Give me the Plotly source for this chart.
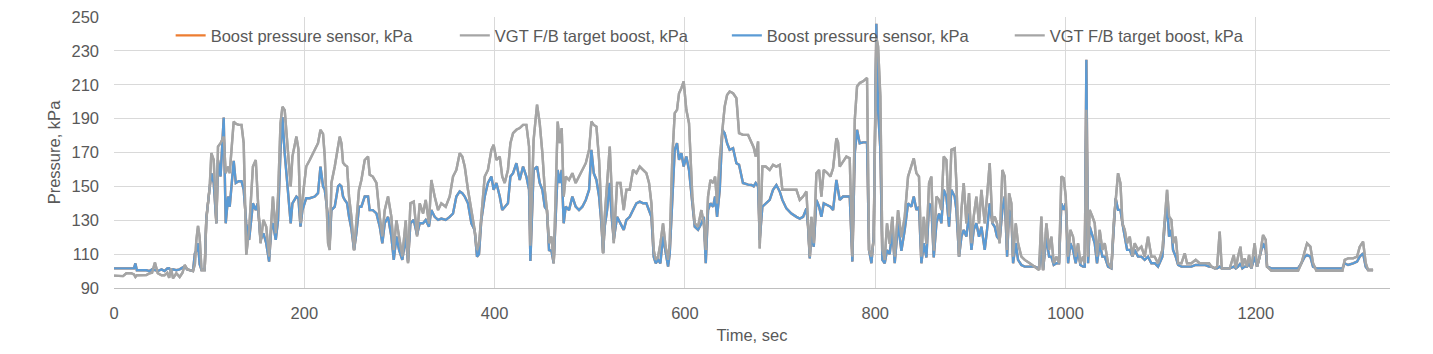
import plotly.graph_objects as go

# ---- Data ----
# Time, sec
time_s = [
    0, 5, 9.5, 13, 18, 21, 22.5, 24, 27, 31, 34, 37.5, 40, 43, 46, 50, 53, 56, 58, 60,
    62, 65.5, 69, 72, 74.3, 77, 79.6, 83, 85, 86.5, 88.3, 90, 92, 95.3, 97, 100.6, 102.3, 104.8, 107.6, 109.3,
    112, 115.3, 117.4, 119.9, 121.6, 125.8, 128, 131, 134, 136.3, 139, 142, 146, 149, 151, 154, 157, 160, 163, 165.4,
    167, 170, 172.4, 175, 177, 179.4, 183, 185.7, 187.5, 191.7, 193.8, 196, 198, 202, 205.7, 211, 214.4, 217, 219.7,
    # 220 - 437
    221.5, 225, 226.7, 228.5, 232, 235.5, 237.2, 239, 240.7, 242.5, 245, 247, 249.5, 252.3, 254.7, 257.5, 260, 263.5,
    267, 268.7, 272, 275.8, 279.3, 282, 284.5, 288, 291.5, 294, 296.8, 299.6, 303, 306.6, 309, 311.5, 315, 318.5,
    321.3, 324.8, 327.6, 331, 333.5, 337, 340.6, 344, 348.6, 352.8, 356.3, 359.8, 363.3, 366, 368.6, 372, 375.6,
    379, 381.5, 383.6, 386, 389.6, 393, 396.6, 399, 401.9, 405.4, 408, 410.6, 414, 416.6, 419.4, 422.9, 426.4,
    429.9, 433.4, 436.2,
    # 437 - 660
    437.6, 441, 444.6, 447.4, 450.2, 452.7, 455, 457.2, 459.7, 462.1, 464.2, 466.3, 468.4, 470.5, 472.6, 474.7,
    478.2, 481.7, 485.2, 488.7, 492.2, 495.8, 499.3, 501.7, 504.2, 507, 509.8, 512.2, 514, 515.7, 518.2, 521, 523,
    525.2, 528.7, 532.2, 535.7, 538.5, 542, 545.5, 549, 552.5, 556, 559.5, 562.3, 564.8, 567.2, 569.3, 571.8, 574.2,
    577, 579.8, 582.3, 584, 586.8, 589.3, 591.7, 593.8, 596.3, 598.7, 601.5, 604.3, 607.8, 610.3, 613.8, 617.3,
    619.8, 621.9, 624.3, 626.8, 629.6, 631.7, 633.8, 636.6, 639.4, 641.8, 644.3, 647, 650.6, 654.1, 656.9,
    # 660 - 880
    661, 666.4, 669.9, 672.3, 674.4, 676.9, 678.6, 681.4, 684.9, 689.1, 692.6, 696.1, 699.6, 702.4, 706.6, 711.9,
    717.2, 720.7, 724.2, 727.7, 729.4, 731.2, 732.9, 735.4, 738.2, 741, 743.4, 745.9, 749.4, 752.9, 755.7, 759.2,
    760.9, 762.7, 766.2, 769.7, 773.2, 776, 778.5, 780.9, 783.7, 787.2, 791.4, 793.5, 796, 798.4, 801.2, 803,
    805.4, 807.5, 810, 812.4, 815.2, 818, 820.5, 824, 827.5, 831, 834.5, 838, 840.5, 843.3, 846, 848.5, 851, 853.8,
    856.6, 859, 861.5, 864.3, 867.1, 869.5, 872, 874.8, 877.6, 880,
    # 880 - 1100
    883.5, 885.3, 888.1, 890.6, 893, 895.8, 898.6, 901.1, 903.5, 906.3, 909.1, 911.6, 915.1, 917.5, 920.3, 923.1,
    925.6, 928, 930.8, 933.6, 936.1, 938.6, 940.7, 943.1, 944.9, 947.7, 950.1, 953.6, 957.1, 962.4, 967.6, 972.2,
    974.6, 976.4, 979.9, 982.7, 985.1, 987.6, 990.4, 993.2, 995.6, 998.1, 1000.2, 1002.7, 1005.1, 1007.9, 1010.7,
    1013.2, 1015.6, 1018.4, 1020.2, 1021.9, 1023.7, 1025.4, 1028.2, 1030.7, 1033.1, 1035.9, 1038.7, 1041.2, 1044.7,
    1048.2, 1050.6, 1052.7, 1055.2, 1057.7, 1059.8, 1062.2, 1064.7, 1067.5, 1070.3, 1072.7, 1076.2, 1079.7, 1083.2,
    1086.7, 1090.2, 1093.7, 1097.2,
    # 1100 - end
    1101.8, 1104.3, 1106.7, 1108.8, 1111.3, 1113, 1115.8, 1118.3, 1121.8, 1125.3, 1127.7, 1132.3, 1136.8, 1141,
    1146.3, 1150.8, 1153.3, 1156.8, 1159.3, 1162, 1164.2, 1169, 1172.6, 1176.8, 1178.9, 1181.3, 1183.8, 1185.9,
    1188.3, 1190.8, 1192.9, 1195.3, 1198.8, 1201.3, 1204.1, 1207.6, 1210.4, 1211.8, 1216.4, 1225.1, 1232.1, 1239.1,
    1244.4, 1247.9, 1251.4, 1253.8, 1257.3, 1260.1, 1263.6, 1274.2, 1284.7, 1291, 1293.4, 1296.9, 1302.2, 1306.4,
    1309.2, 1312.7, 1315.5, 1318, 1323.2,
]

# Boost pressure sensor, kPa
boost_kpa = [
    101.6, 101.6, 101.6, 101.6, 101.6, 101.6, 104.5, 100.5, 100.5, 100.5, 100.5, 100, 101, 100.5, 100, 101, 100, 101.5, 101.6, 100,
    101, 100.5, 101, 102, 102.6, 101, 100.6, 100, 110.5, 112, 116.4, 104, 100.6, 100.6, 131.2, 152, 157.8, 152, 128.2, 165.6,
    155.8, 190.7, 128.2, 144, 138, 165, 152, 153, 153, 148, 128, 118.4, 140, 136, 140, 118.4, 122.3, 116.4, 105.6, 126.2,
    128.2, 118.4, 130, 171.6, 190.9, 169.6, 146, 128.2, 140, 144, 143, 126.2, 136, 143, 143, 144, 146, 161.7, 150,
    # 220 - 437
    148, 132, 116.4, 136, 138, 150, 151, 150, 144, 142, 140, 132, 125, 112.4, 122.3, 138, 138, 144,
    144, 136, 136, 134, 126.2, 116.4, 128.2, 132, 120.4, 106.6, 120.4, 112.4, 106.6, 120.4, 105.6, 128.2, 130.2, 121.4,
    128.2, 128.2, 130.2, 126.2, 136, 132, 130.2, 131, 130.2, 132, 134, 144, 147, 146, 144, 140, 128.2,
    124.3, 108.5, 110, 130, 144, 152, 155.8, 148, 152, 144, 136, 138, 140, 155.8, 157.8, 163.7, 153.8,
    161.7, 155.8, 148,
    # 437 - 660
    106, 159.7, 161.7, 152, 148, 138, 136, 112.4, 112, 104.6, 132, 159.7, 152, 159.7, 128.2, 138,
    136, 144, 138, 136, 138, 142, 148, 171.6, 157.8, 153.8, 144, 128.2, 110.5, 126.2, 136, 152, 132,
    118.4, 132, 128.2, 124.3, 130.2, 132, 136, 140, 141, 140, 140, 136, 132, 108.5, 104.6, 106.6, 104.6,
    120.4, 110.5, 102.6, 110, 144, 171.6, 175.5, 165.6, 169.6, 161.7, 167.6, 159.7, 140, 126.2, 124.3, 128,
    132, 104.6, 136, 140, 138, 144, 132, 148, 183.4, 181.4, 175.5, 171.6, 172.5, 163.7, 162.7,
    # 660 - 880
    152, 151, 150.8, 150, 152, 150, 118.4, 138, 140, 142, 148, 150.8, 147, 142, 137, 134,
    132, 131, 132, 137, 126.2, 107.5, 122.3, 114.4, 142, 138, 132, 140, 139, 138, 136, 153.8,
    148, 142, 144, 144, 144, 105.6, 169.6, 183.4, 175.5, 176, 176, 112.4, 104.6, 120.4, 246, 195.2,
    171.6, 106.6, 104.6, 112.4, 110, 124.3, 104.6, 128.2, 112, 124.3, 140, 138, 144, 136, 138, 104.6, 116.4, 108,
    140, 138, 108, 128.2, 134, 128.2, 148, 144, 126.2, 148,
    # 880 - 1100
    144, 136.1, 108.5, 120.3, 124.3, 120.3, 134.1, 112.5, 124.3, 128.2, 120.3, 126.2, 112.5, 124.3, 140, 128.2,
    126.2, 120.3, 118.4, 136.1, 144, 108.5, 136.1, 132.2, 104.6, 116.4, 106.6, 103.6, 102.6, 102.6, 102.6, 101.6,
    116.4, 100.6, 120.3, 108.5, 108.5, 103.6, 104.6, 104.6, 140, 136.1, 140, 104.6, 116.4, 112.5, 104.6,
    112.5, 103.6, 102.6, 102.6, 224.8, 104.6, 126.2, 120.3, 116.4, 104.6, 116.4, 108.5, 108.5, 102.6,
    101.6, 124.3, 143, 136.1, 136.1, 128.2, 120.3, 112.5, 112.5, 108.5, 112.5, 108.5, 108.5, 106.6,
    108.5, 104.6, 104.6, 102.6,
    # 1100 - end
    108.5, 128.2, 140, 120.3, 124.3, 112.5, 108.5, 103.6, 102.6, 102.6, 102.6, 102.6, 103.6, 103.6,
    103.6, 102.6, 102.6, 101.6, 101.6, 102.6, 101.6, 101.6, 101.6, 102.6, 101.6, 102.6, 104.6, 101.6,
    102.6, 102.6, 104.6, 101.6, 108.5, 102.6, 108.5, 116.4, 112.5, 102.6, 101.6, 101.6, 101.6, 101.6,
    101.6, 104.6, 108.5, 109.5, 108.5, 102.6, 101.6, 101.6, 101.6, 101.6, 104.6, 103.6, 104.6, 105.6,
    108.5, 110.5, 102.6, 100.6, 100.6,
]

# VGT F/B target boost, kPa
target_kpa = [
    97.3, 97.3, 97, 98.7, 98.7, 98, 96.5, 97.5, 97.5, 97.5, 97.7, 98.7, 99, 105, 98.7, 97.5, 97.5, 99, 96, 101.6,
    95.7, 98.7, 96.5, 99, 103.6, 101, 100.6, 100, 104, 118, 126.6, 120, 100.6, 100.6, 130.2, 150, 169.6, 165.6, 128.2, 173.5,
    175.5, 179.4, 157.8, 161.7, 157.8, 188.3, 187, 186.3, 186.3, 175.5, 109.5, 124.3, 161.7, 165.6, 144, 116.4, 130.2, 126.2, 108.5, 132,
    144, 122.3, 144, 187.3, 197, 195, 167.6, 150, 167.6, 179.4, 172, 128.2, 142, 161.7, 165.6, 171.6, 175.5, 183.4, 181,
    # 220 - 437
    167.6, 116.4, 112.4, 152, 161.7, 175.5, 179.4, 175.5, 164, 162.7, 161.7, 144, 132, 112.4, 130, 148, 153.8, 165.6,
    167.6, 156.8, 155.8, 152, 132, 120.4, 136, 144, 132, 112.4, 130, 120.4, 108.5, 130, 104.6, 140, 141, 120.4,
    140, 134, 142, 128, 153.8, 144, 136, 140, 138, 144, 155.8, 159.7, 169.6, 167.6, 161.7, 148, 136,
    124.3, 112.4, 116, 132, 155.8, 159.7, 171.6, 174.5, 165.6, 167.6, 155.8, 152, 159.7, 175.5, 181.4, 183.4, 184.4,
    186.3, 186.3, 173.5,
    # 437 - 660
    115, 177.5, 198.2, 187.3, 169.6, 148, 136, 116.4, 120.4, 104.6, 144, 188.3, 175.5, 184.4, 144, 155.8,
    153.8, 157.8, 152, 155.8, 159.7, 163.7, 171.6, 188.3, 186.3, 185.3, 165.6, 136, 110.5, 132, 152, 173.5, 148,
    116.4, 152, 152, 136, 148, 148, 159.7, 157.8, 161.7, 159.7, 157.8, 152, 140, 112.4, 106.6, 108.5, 116,
    128.2, 114, 106.6, 116.4, 167.6, 193.2, 195.2, 205, 208, 212, 195.2, 187.3, 144, 128.2, 126.2, 136,
    128.2, 112.4, 144, 153.8, 152, 155.8, 140, 165.6, 183.4, 197.2, 204, 206, 205, 202.1, 181.4,
    # 660 - 880
    180.4, 180.4, 175.5, 173, 167.6, 176.5, 113.4, 161.7, 161.7, 159.7, 162.7, 161.7, 162.7, 148, 148, 148,
    148, 142, 144, 147, 128.2, 108.5, 132, 116.4, 157.8, 159.7, 144, 159.7, 158, 155.8, 160.7, 178.4,
    176, 161.7, 164.6, 167.6, 166.6, 108.5, 189.3, 209, 211, 212, 214, 112.4, 108.5, 118.4, 238, 232.6,
    203.1, 112.4, 106.6, 128.2, 116, 132, 108.5, 136, 120, 132, 155.8, 161.7, 166.6, 157.8, 155.8, 108.5, 132, 116,
    152, 155.8, 112, 144, 142, 136, 167.6, 165.6, 132, 171.6,
    # 880 - 1100
    172.5, 151.9, 108.5, 136.1, 151.9, 128.2, 146, 116.4, 132.2, 144, 128.2, 148, 128.2, 144, 163.7, 128.2,
    132.2, 128.2, 116.4, 159.7, 155.8, 112.5, 146, 140, 108.5, 128.2, 116.4, 108.5, 106.6, 104.6, 102.6, 100.6,
    132.2, 100.6, 128.2, 112.5, 120.3, 104.6, 108.5, 104.6, 155.8, 154.8, 144, 108.5, 124.3, 120.3, 108.5,
    116.4, 104.6, 108.5, 104.6, 195.2, 108.5, 136.1, 132.2, 128.2, 108.5, 124.3, 112.5, 116.4, 104.6,
    101.6, 128.2, 144, 157.8, 151.9, 128.2, 124.3, 116.4, 120.3, 108.5, 116.4, 112.5, 114.4, 108.5,
    120.3, 108.5, 108.5, 104.6,
    # 1100 - end
    112.5, 132.2, 148, 132.2, 130.2, 116.4, 120.3, 104.6, 104.6, 110.5, 104.6, 104.6, 106.6, 104.6,
    104.6, 104.6, 102.6, 101.6, 102.6, 123.3, 101.6, 101.6, 101.6, 109.5, 101.6, 108.5, 114.4, 102.6,
    107.5, 102.6, 109.5, 101.6, 116.4, 102.6, 108.5, 121.3, 118.4, 102.6, 100.2, 100.2, 100.2, 100.2,
    100.2, 104.6, 112.5, 116.4, 114.4, 104.6, 100.2, 100.2, 100.2, 100.2, 106.6, 107.5, 107.5, 108.5,
    114.4, 117.4, 104.6, 100.6, 100.6,
]

x_ticks = [0, 200, 400, 600, 800, 1000, 1200]
y_ticks = [90, 110, 130, 150, 170, 190, 210, 230, 250]

names = ["Boost pressure sensor, kPa", "VGT F/B target boost, kPa",
         "Boost pressure sensor, kPa", "VGT F/B target boost, kPa"]
colors = ["#ED7D31", "#A5A5A5", "#5B9BD5", "#A5A5A5"]
series = [boost_kpa, target_kpa, boost_kpa, target_kpa]

FONT = "Liberation Sans, Arial, sans-serif"
TXT = "#595959"

fig = go.Figure()
for i, (nm, col, ys) in enumerate(zip(names, colors, series)):
    fig.add_trace(go.Scatter(
        x=time_s, y=ys, mode="lines", name=nm,
        line=dict(color=col, width=2.4),
        legend="legend" if i == 0 else f"legend{i+1}",
    ))

# legend positions (paper coords)
leg_x = [0.0444, 0.2671, 0.4803, 0.7020]
leg_common = dict(orientation="h", yanchor="middle", xanchor="left", y=0.931,
                  bgcolor="rgba(0,0,0,0)", borderwidth=0,
                  font=dict(family=FONT, size=16.5, color=TXT))

layout_legends = {}
for i, lx in enumerate(leg_x):
    key = "legend" if i == 0 else f"legend{i+1}"
    layout_legends[key] = dict(x=lx, **leg_common)

fig.update_layout(
    width=1433, height=354,
    margin=dict(l=114, r=43, t=17, b=66, autoexpand=False),
    paper_bgcolor="white", plot_bgcolor="white",
    font=dict(family=FONT, size=16.5, color=TXT),
    showlegend=True,
    **layout_legends,
)

fig.update_xaxes(
    range=[0, 1341], tickvals=x_ticks, ticktext=[str(v) for v in x_ticks],
    showgrid=True, gridcolor="#D9D9D9", gridwidth=1,
    zeroline=False, showline=True, linecolor="#BFBFBF", linewidth=1,
    ticks="", ticklabelstandoff=10, automargin=False,
    title=dict(text="Time, sec", font=dict(family=FONT, size=16.5, color=TXT), standoff=8),
)
fig.update_yaxes(
    range=[90, 250], tickvals=y_ticks, ticktext=[str(v) for v in y_ticks],
    showgrid=True, gridcolor="#D9D9D9", gridwidth=1,
    zeroline=False, showline=False,
    ticks="", ticklabelstandoff=14, automargin=False,
    title=dict(text="Pressure, kPa", font=dict(family=FONT, size=16.5, color=TXT), standoff=6),
)

fig.write_html("out.html")
